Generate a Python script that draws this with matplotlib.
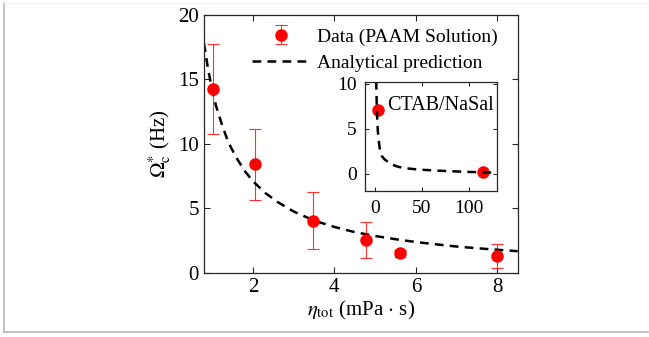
import numpy as np
import matplotlib.pyplot as plt
from matplotlib.lines import Line2D

plt.rcParams['font.family'] = ['Liberation Serif', 'DejaVu Serif']
plt.rcParams['mathtext.fontset'] = 'stix'
plt.rcParams['font.size'] = 11

# PAAM solution data
eta = [1.02, 2.04, 3.48, 4.77, 5.6, 8.0]
omega = [14.25, 8.4, 4.05, 2.55, 1.5, 1.3]
omega_err = [3.5, 2.75, 2.2, 1.4, 0.3, 0.9]

# analytical prediction
eta_fit = [0.8, 0.9, 1.0, 1.1, 1.25, 1.4, 1.6, 1.8, 2.0, 2.3, 2.6, 3.0, 3.5,
           4.0, 4.5, 5.0, 5.5, 6.0, 6.5, 7.0, 7.5, 8.0, 8.5]
omega_fit = [17.8, 15.8, 14.2, 12.9, 11.4, 10.1, 8.9, 7.9, 7.1, 6.2, 5.5,
             4.75, 4.05, 3.55, 3.15, 2.85, 2.6, 2.38, 2.2, 2.03, 1.9, 1.78,
             1.67]

# CTAB/NaSal inset
eta_ctab = [2.9, 114.6]
omega_ctab = [7.1, 0.12]
eta_ctab_fit = [0.8, 1.0, 1.4, 2.0, 3.0, 4.0, 5.3, 7.0, 10.0, 13.8, 18.0,
                24.8, 32.0, 45.7, 65.0, 90.0, 115.0, 130.0]
omega_ctab_fit = [12.0, 11.0, 10.0, 7.0, 4.8, 3.7, 2.6, 2.0, 1.6, 1.3, 1.0,
                  0.75, 0.6, 0.45, 0.33, 0.22, 0.13, 0.1]

red = '#ff0000'
axcol = '#262626'

fig = plt.figure(figsize=(6.49, 3.37), dpi=100)
ax = fig.add_axes([0.3143, 0.1908, 0.4834, 0.7647])

eb = ax.errorbar(eta, omega, yerr=omega_err, fmt='o', color=red,
                 ecolor='#ff3030', markersize=8, elinewidth=0.8, capsize=4.5,
                 capthick=0.8, label='Data (PAAM Solution)')
line, = ax.plot(eta_fit, omega_fit, 'k--', lw=1.8, label='Analytical prediction')
line.set_dashes([3.5, 2.5])

ax.set_xlim(0.8, 8.5)
ax.set_ylim(0, 20)
ax.set_xticks([2, 4, 6, 8])
ax.set_yticks([0, 5, 10, 15, 20])
ax.tick_params(direction='in', length=4, width=0.8, top=True, right=True,
               colors=axcol, labelcolor='black', labelsize=15)
for s in ax.spines.values():
    s.set_color(axcol)
    s.set_linewidth(0.9)
ax.set_xlabel(r'$\eta_{\rm tot}$ (mPa $\cdot$ s)', fontsize=15, labelpad=2)
ax.set_ylabel(r'$\Omega_{\rm c}^{*}$ (Hz)', fontsize=15, labelpad=4)

leg = ax.legend([eb, line], ['Data (PAAM Solution)', 'Analytical prediction'],
                loc='upper right', bbox_to_anchor=(0.975, 0.995), frameon=False,
                fontsize=14, handlelength=3.0, handletextpad=0.35,
                labelspacing=0.45, borderaxespad=0.2)

# inset
ins = fig.add_axes([0.5624, 0.4318, 0.2038, 0.3246])
ins.plot(eta_ctab, omega_ctab, 'o', color=red, markersize=8)
l2, = ins.plot(eta_ctab_fit, omega_ctab_fit, 'k--', lw=1.8)
l2.set_dashes([3.5, 2.5])
ins.set_xlim(-10.6, 130)
ins.set_ylim(-2, 10.2)
ins.set_xticks([0, 50, 100])
ins.set_yticks([0, 5, 10])
ins.tick_params(direction='in', length=3, width=0.8, top=True, right=True,
                colors=axcol, labelcolor='black', labelsize=14, pad=6)
for s in ins.spines.values():
    s.set_color(axcol)
    s.set_linewidth(0.9)
ins.text(0.17, 0.79, 'CTAB/NaSal', transform=ins.transAxes, fontsize=14.5,
         va='center', ha='left')

# thin frame around the figure
fig.add_artist(Line2D([0.006, 0.006], [0.015, 0.99], color='#b8b8b8', lw=1.2))
fig.add_artist(Line2D([0.006, 0.999], [0.015, 0.015], color='#b8b8b8', lw=1.2))
fig.add_artist(Line2D([0.006, 0.999], [0.99, 0.99], color='#f2f2f2', lw=1))

fig.savefig('out.png', dpi=100)
